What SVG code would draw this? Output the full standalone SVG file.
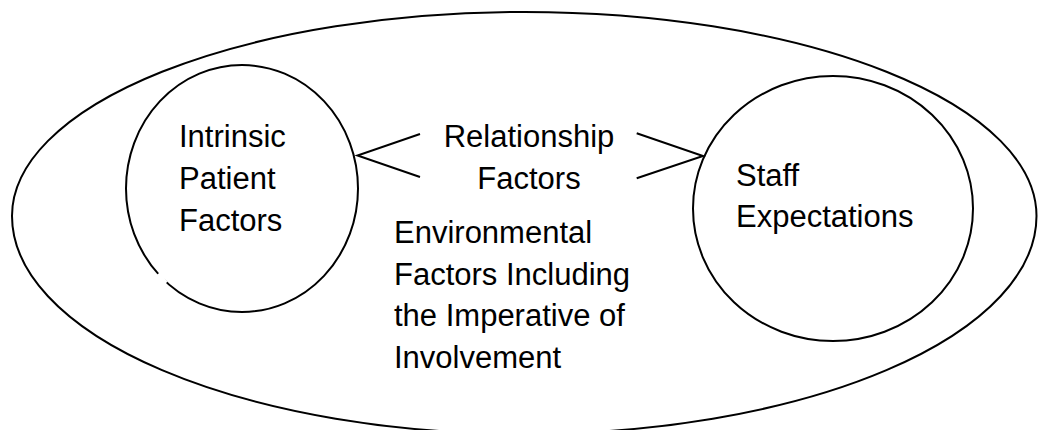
<svg xmlns="http://www.w3.org/2000/svg" width="1038" height="430" viewBox="0 0 1038 430">
  <style>
    .shape { fill: none; stroke: #000; stroke-width: 2; }
    .line { fill: none; stroke: #000; stroke-width: 2; stroke-linejoin: miter; }
    .label { font-family: "Liberation Sans", Arial, sans-serif; font-size: 31px; fill: #000; }
  </style>
  <rect x="0" y="0" width="1038" height="430" fill="#fff"/>
  <g id="environment">
    <path class="shape" d="M 12 216 A 512.25 204 0 0 1 1036.5 216 A 512.25 218 0 0 1 12 216 Z"/>
    <text class="label" x="394" y="243">Environmental</text>
    <text class="label" x="394" y="285">Factors Including</text>
    <text class="label" x="394" y="326">the Imperative of</text>
    <text class="label" x="394" y="368">Involvement</text>
  </g>
  <g id="patient">
    <ellipse class="shape" cx="242" cy="188.5" rx="116" ry="123.5"/>
    <line x1="158.5" y1="273.5" x2="166" y2="283" stroke="#fff" stroke-width="4"/>
    <text class="label" x="179" y="147">Intrinsic</text>
    <text class="label" x="179" y="188.5">Patient</text>
    <text class="label" x="179" y="231">Factors</text>
  </g>
  <g id="staff">
    <ellipse class="shape" cx="833" cy="208.5" rx="140" ry="132.5"/>
    <text class="label" x="736" y="186">Staff</text>
    <text class="label" x="736" y="227">Expectations</text>
  </g>
  <g id="relationship">
    <text class="label" x="529" y="147" text-anchor="middle">Relationship</text>
    <text class="label" x="529" y="188.5" text-anchor="middle">Factors</text>
  </g>
  <g id="connectors">
    <polyline class="line" points="420,134 357.5,155.5 420,177"/>
    <polyline class="line" points="636.7,133.3 703,156 636.7,178.3"/>
  </g>
</svg>
